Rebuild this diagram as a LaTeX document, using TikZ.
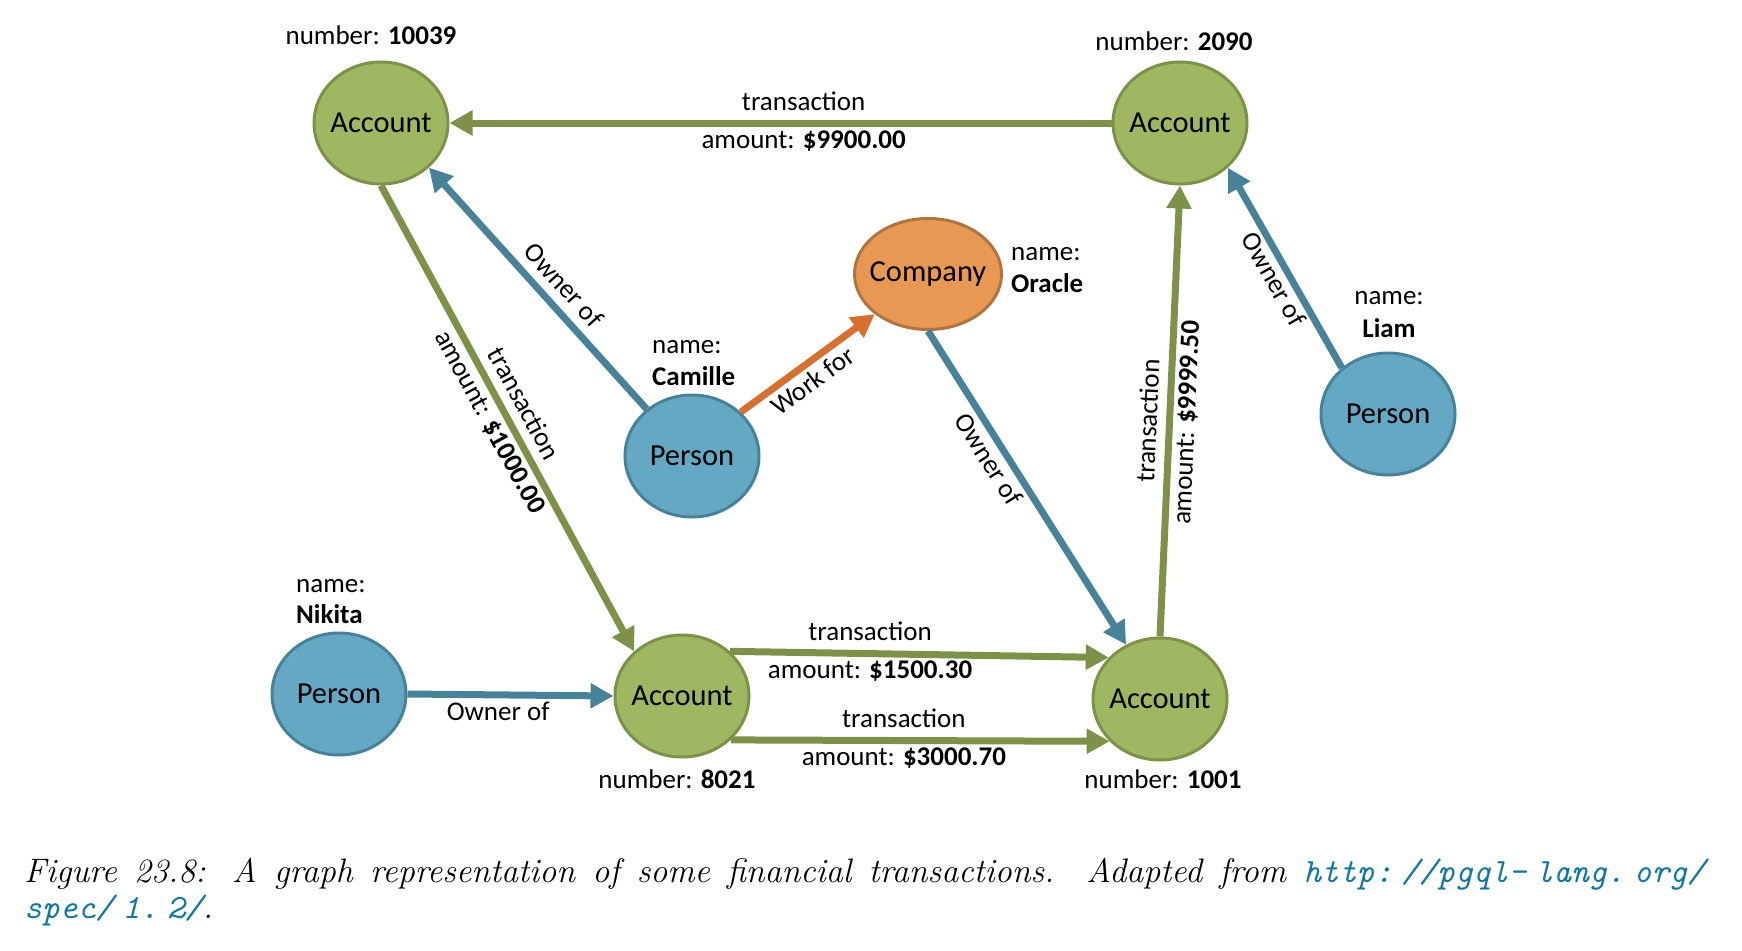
\documentclass[tikz,border=0pt]{standalone}
\usepackage{fontspec}
\newfontfamily\calfont{Carlito}
\usetikzlibrary{shapes.geometric,arrows.meta}
\definecolor{accfill}{RGB}{160,183,98}
\definecolor{accline}{RGB}{125,145,72}
\definecolor{perfill}{RGB}{100,168,195}
\definecolor{perline}{RGB}{72,130,153}
\definecolor{comfill}{RGB}{233,152,84}
\definecolor{comline}{RGB}{176,116,64}
\definecolor{orgedge}{RGB}{214,112,48}
\definecolor{linkblue}{RGB}{18,120,162}
\newcommand{\ctr}[1]{\makebox[0pt]{#1}}
\newcommand{\ug}{\hspace{9pt}}
\begin{document}
\begin{tikzpicture}[x=1pt,y=-1pt,
  ent/.style={ellipse, line width=3pt, inner sep=0pt, minimum width=134pt, minimum height=122pt, font=\calfont\fontsize{30.5}{36}\selectfont},
  acct/.style={ent, draw=accline, fill=accfill},
  pers/.style={ent, draw=perline, fill=perfill},
  comp/.style={ent, draw=comline, fill=comfill, minimum width=147pt, minimum height=111pt},
  edge/.style={line width=7pt, -{Triangle[length=23pt,width=24pt]}},
  gedge/.style={edge, draw=accline},
  bedge/.style={edge, draw=perline},
  oedge/.style={edge, draw=orgedge},
  prop/.style={font=\calfont\fontsize{27}{32}\selectfont, inner sep=0pt},
  lup/.style={prop, above, inner sep=9pt},
  ldn/.style={prop, below, inner sep=4pt},
  capt/.style={anchor=base west, inner sep=0pt, font=\fontsize{34}{38}\selectfont\itshape},
]
\useasboundingbox (0,0) rectangle (1742,950);

% entities
\node[acct] (a10039) at (381,123) {\ctr{Account}};
\node[acct] (a2090) at (1180,123) {\ctr{Account}};
\node[comp] (comp) at (928,274) {\ctr{Company}};
\node[pers] (camille) at (692,456) {\ctr{Person}};
\node[pers] (liam) at (1388,414) {\ctr{Person}};
\node[pers] (nikita) at (339,694) {\ctr{Person}};
\node[acct] (a8021) at (682,696) {\ctr{Account}};
\node[acct] (a1001) at (1160,699) {\ctr{Account}};

% properties
\node[prop, anchor=base] (p10039) at (371,45) {number: \textbf{10039}};
\node[prop, anchor=base] (p2090) at (1174,51) {number: \textbf{2090}};
\node[prop, anchor=base west] (pora1) at (1011,260) {name:};
\node[prop, anchor=base west] (pora2) at (1011,292) {\textbf{Oracle}};
\node[prop, anchor=base west] (pcam1) at (652,353) {name:};
\node[prop, anchor=base west] (pcam2) at (652,385) {\textbf{Camille}};
\node[prop, anchor=base] (pliam1) at (1389,304) {name:};
\node[prop, anchor=base] (pliam2) at (1389,337) {\textbf{Liam}};
\node[prop, anchor=base west] (pnik1) at (296,592) {name:};
\node[prop, anchor=base west] (pnik2) at (296,623) {\textbf{Nikita}};
\node[prop, anchor=base] (p8021) at (677,788) {number: \textbf{8021}};
\node[prop, anchor=base] (p1001) at (1163,788) {number: \textbf{1001}};

% edges
\draw[gedge] (a2090.west) -- node[lup, pos=0.465] {transaction}
  node[ldn, pos=0.465] {amount: \textbf{\$9900.00}} (a10039.east);
\draw[gedge] (a10039.south) -- node[lup, sloped, pos=0.49] {transaction}
  node[ldn, sloped, pos=0.49] {amount: \textbf{\$1000.00}} (a8021.137);
\draw[bedge] (camille.134) -- node[lup, sloped, pos=0.454] {Owner of} (a10039.-43);
\draw[oedge] (camille.42) -- node[ldn, sloped, pos=0.46] {Work for} (comp.-143);
\draw[bedge] (comp.south) -- node[ldn, sloped, pos=0.38] {Owner of} (a1001.122);
\draw[gedge] (a1001.north) -- node[lup, sloped, pos=0.476] {transaction}
  node[ldn, sloped, pos=0.476] {amount: \textbf{\$9999.50}} (a2090.south);
\draw[bedge] (liam.135) -- node[ldn, sloped, pos=0.48, inner sep=2pt] {Owner of} (a2090.-43);
\draw[bedge] (nikita.east) -- node[ldn, pos=0.44] {Owner of} (a8021.west);
\draw[gedge] (a8021.43) -- node[lup, pos=0.37] {transaction}
  node[ldn, pos=0.37] {amount: \textbf{\$1500.30}} (a1001.141);
\draw[gedge] (a8021.-42) -- node[lup, pos=0.457] {transaction}
  node[ldn, pos=0.457] {amount: \textbf{\$3000.70}} (a1001.220);

% caption
\node[capt] (cap1) at (24,882) {\makebox[1681pt][s]{Figure 23.8: A graph representation of some financial transactions. Adapted from {\color{linkblue}\ttfamily http:\ug//pgql-\ug lang.\ug org/}}};
\node[capt] (cap2) at (24,918) {{\color{linkblue}\ttfamily spec/\ug 1.\ug 2/}.};
\end{tikzpicture}
\end{document}
